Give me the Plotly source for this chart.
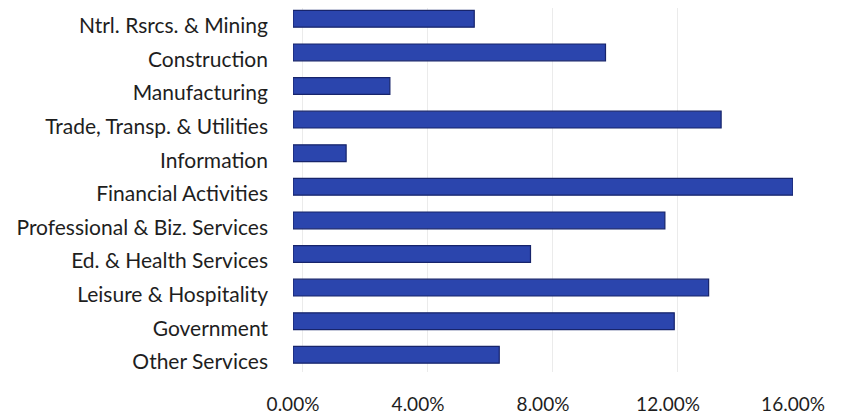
import plotly.graph_objects as go

categories = ["Ntrl. Rsrcs. & Mining", "Construction", "Manufacturing",
              "Trade, Transp. & Utilities", "Information", "Financial Activities",
              "Professional & Biz. Services", "Ed. & Health Services",
              "Leisure & Hospitality", "Government", "Other Services"]
values = [5.8, 10.0, 3.1, 13.7, 1.7, 16.0, 11.9, 7.6, 13.3, 12.2, 6.6]
tick_vals = [0, 4, 8, 12, 16]
tick_text = ["0.00%", "4.00%", "8.00%", "12.00%", "16.00%"]

FONT = "Lato"

fig = go.Figure()
fig.add_trace(go.Bar(
    x=values, y=categories, orientation="h",
    marker=dict(color="#2b45ad", line=dict(color="#17246b", width=1.2)),
))
# invisible trace on the shifted back-wall axis (for gridlines)
fig.add_trace(go.Scatter(x=[0], y=[categories[0]], xaxis="x2", mode="markers",
                         marker=dict(opacity=0), hoverinfo="skip", showlegend=False))
# invisible trace on the label axis (category labels sit slightly below bars)
fig.add_trace(go.Scatter(x=values, y=categories, yaxis="y2", mode="markers",
                         marker=dict(opacity=0), hoverinfo="skip", showlegend=False))

fig.update_layout(
    width=841, height=416,
    margin=dict(l=285, r=56, t=0, b=52, autoexpand=False),
    paper_bgcolor="white", plot_bgcolor="white",
    bargap=0.5,
    showlegend=False,
    font=dict(family=FONT, size=19, color="#1e1e1e"),
    xaxis=dict(range=[0, 16], tickvals=tick_vals, ticktext=tick_text, automargin=False,
               showgrid=False, zeroline=False, showline=False, ticks="",
               ticklabelstandoff=19, tickfont=dict(family=FONT, size=19, color="#1e1e1e")),
    xaxis2=dict(range=[-0.29, 15.71], overlaying="x", tickvals=tick_vals, automargin=False,
                showticklabels=False, showgrid=True, gridcolor="#ebebeb", gridwidth=1,
                zeroline=False, showline=False, ticks="", layer="below traces"),
    yaxis=dict(categoryorder="array", categoryarray=categories,
               range=[10.512, -0.321], automargin=False, showticklabels=False,
               showgrid=False, zeroline=False, showline=False, ticks=""),
    yaxis2=dict(type="category", categoryorder="array", categoryarray=categories,
                overlaying="y", side="left",
                range=[10.304, -0.529], automargin=False,
                showgrid=False, zeroline=False, showline=False, ticks="",
                ticklabelstandoff=24, tickfont=dict(family=FONT, size=21, color="#1e1e1e")),
)

fig.write_html("out.html")
